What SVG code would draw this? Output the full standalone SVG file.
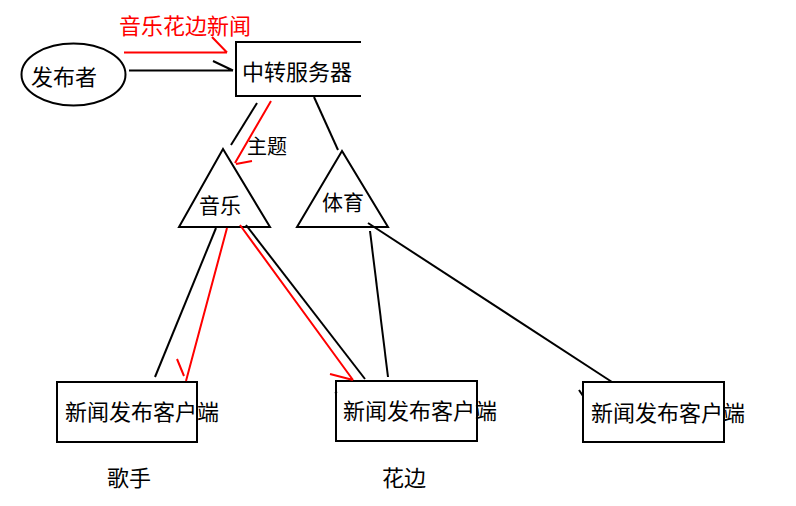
<svg xmlns="http://www.w3.org/2000/svg" width="796" height="506" viewBox="0 0 796 506">
<style>
.s{fill:none;stroke:#000;stroke-width:2}
.r{fill:none;stroke:#f00;stroke-width:2}
.t{font-family:"Noto Sans CJK SC","Microsoft YaHei",sans-serif;font-size:22px;fill:#000}
.tr{font-family:"Noto Sans CJK SC","Microsoft YaHei",sans-serif;font-size:22px;fill:#f00}
</style>
<rect width="796" height="506" fill="#fff"/>
<g id="publisher">
<ellipse class="s" cx="73.5" cy="74.5" rx="52" ry="31"/>
<text class="t" x="31" y="85">发布者</text>
</g>
<g id="server">
<path class="s" d="M361,42 H236 V96 H361"/>
<text class="t" x="242" y="80">中转服务器</text>
</g>
<g id="music">
<polygon class="s" points="223,149 179,227 270,227"/>
<text class="t" x="199" y="213" style="font-size:21px">音乐</text>
</g>
<g id="sports">
<polygon class="s" points="342,151 297,227 388,227"/>
<text class="t" x="322" y="210" style="font-size:21px">体育</text>
</g>
<g id="client1">
<rect class="s" x="57" y="382" width="140" height="60"/>
<text class="t" x="65" y="420">新闻发布客户端</text>
</g>
<g id="client2">
<rect class="s" x="336" y="381" width="141" height="60"/>
<text class="t" x="343" y="419">新闻发布客户端</text>
</g>
<g id="client3">
<rect class="s" x="583" y="382" width="141" height="60"/>
<text class="t" x="591" y="421">新闻发布客户端</text>
</g>
<g id="labels">
<text class="tr" x="119" y="34">音乐花边新闻</text>
<text class="t" x="247" y="154" style="font-size:20px">主题</text>
<text class="t" x="107" y="486">歌手</text>
<text class="t" x="382" y="486">花边</text>
</g>
<g id="connectors">
<path class="s" d="M129,70.5 H233 M213,61 L233,70.5"/>
<path class="r" d="M124,52.5 H227 M212,37 L227,52.5"/>
<path class="s" d="M257,103 L231,145"/>
<path class="r" d="M271,101 L235,163 M252,161 L236,164"/>
<path class="s" d="M314,97 L338,150"/>
<path class="s" d="M216,228 L155,377"/>
<path class="r" d="M227,228 L186,381 M177,359 L184,376"/>
<path class="r" d="M240,225 L353,380 M330,374 L353,380"/>
<path class="s" d="M246,225 L365,379"/>
<path class="s" d="M370,231 L388,377"/>
<path class="s" d="M368,223 L612,382"/>
<path class="s" d="M579,390 L583,396 M335,392 L337,393"/>
</g>
</svg>
